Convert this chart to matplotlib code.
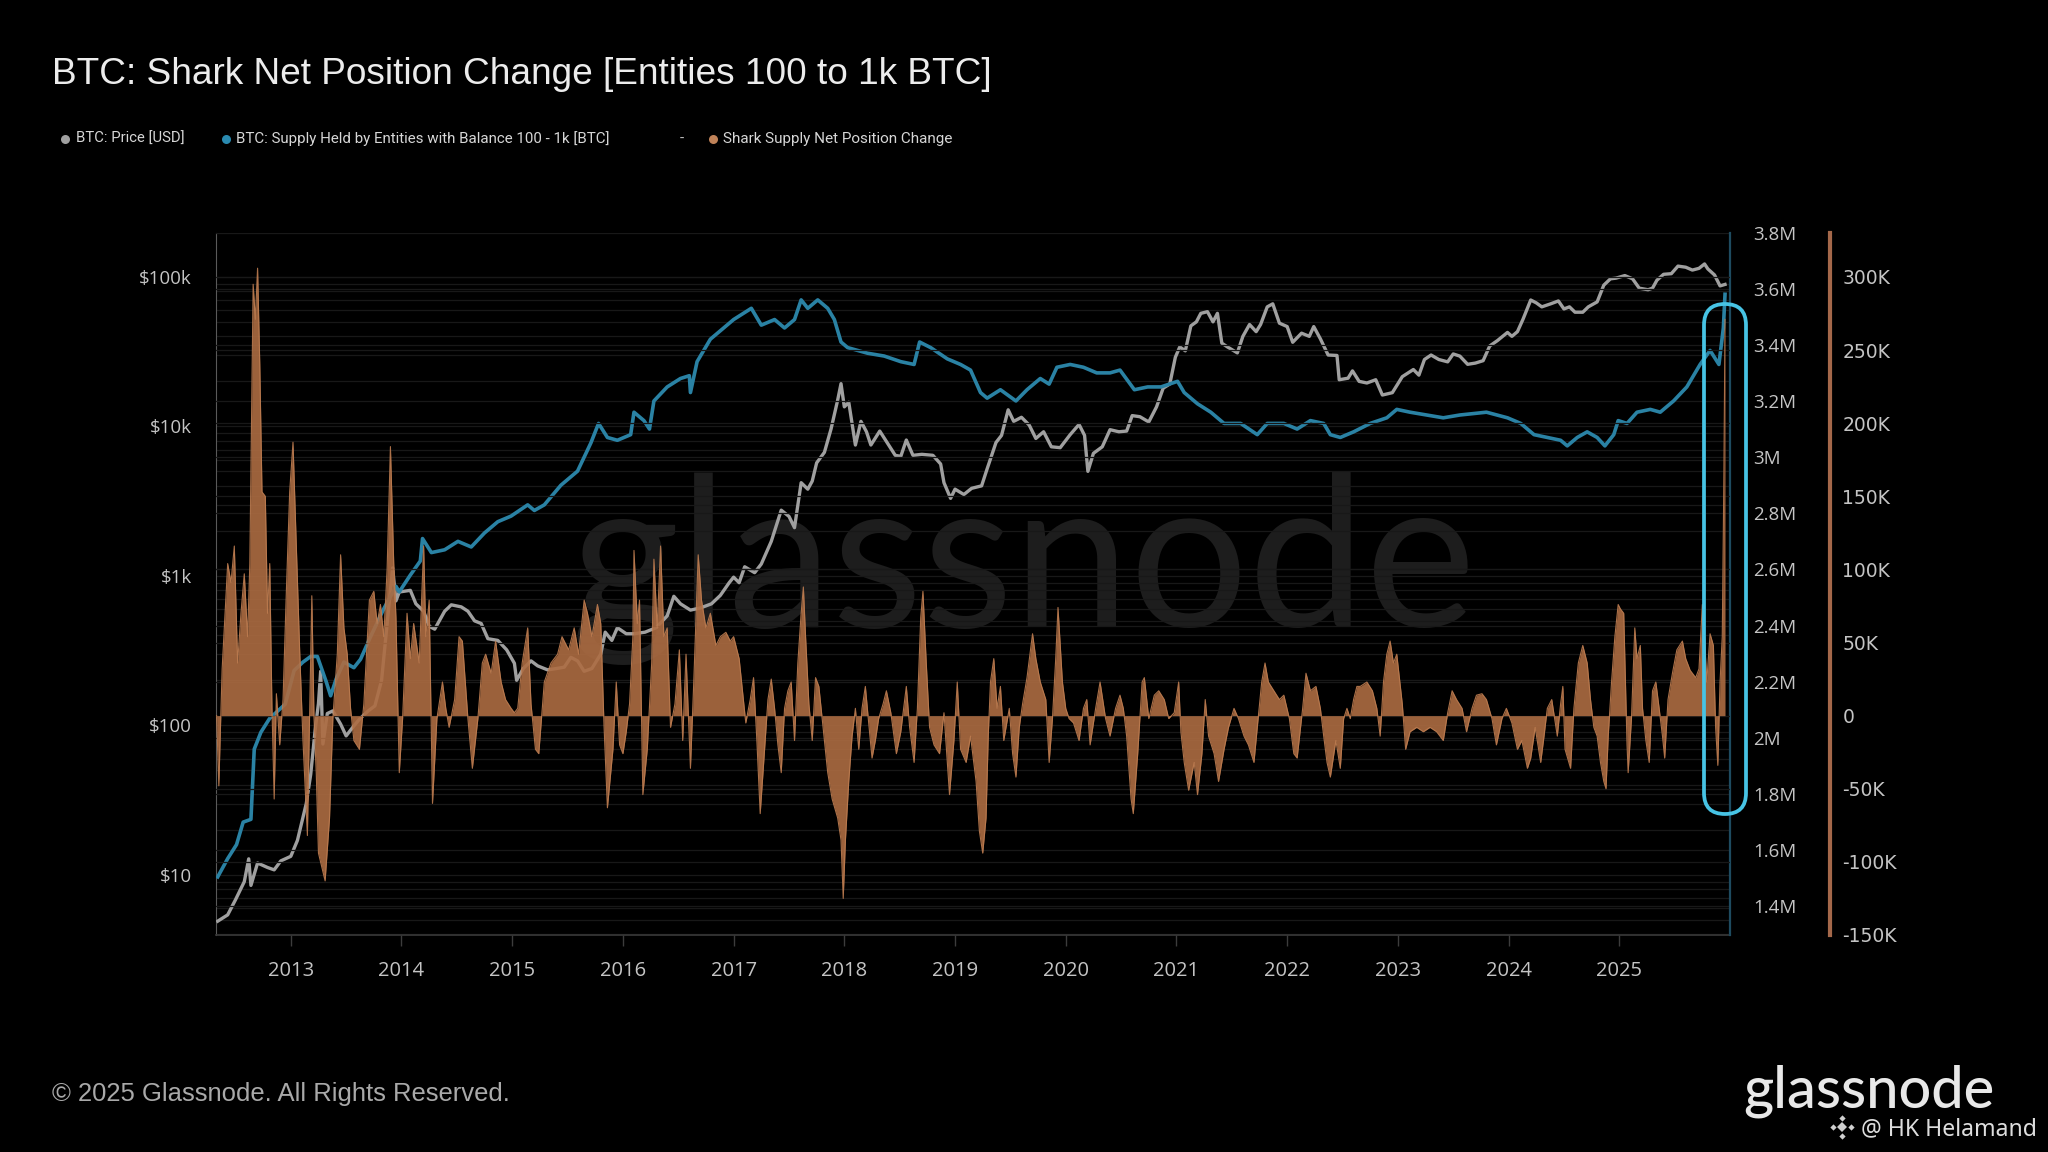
import matplotlib
matplotlib.use("Agg")
import matplotlib.pyplot as plt
from matplotlib.patches import FancyBboxPatch
from matplotlib.lines import Line2D
import matplotlib.ticker as mticker

# ---------------- data ----------------
price_years = [2012.34, 2012.43, 2012.50, 2012.58, 2012.62, 2012.64, 2012.70, 2012.79, 2012.85, 2012.91,
               2013.00, 2013.06, 2013.09, 2013.14, 2013.18, 2013.22, 2013.25, 2013.27, 2013.29, 2013.33,
               2013.38, 2013.45, 2013.50, 2013.55, 2013.62, 2013.70, 2013.76, 2013.82, 2013.86, 2013.90,
               2013.92, 2013.95, 2013.98, 2014.08, 2014.13, 2014.20, 2014.25, 2014.30, 2014.39, 2014.45,
               2014.54, 2014.60, 2014.66, 2014.72, 2014.78, 2014.87, 2014.95, 2015.02, 2015.04, 2015.10,
               2015.17, 2015.23, 2015.32, 2015.40, 2015.47, 2015.53, 2015.59, 2015.65, 2015.72, 2015.80,
               2015.84, 2015.90, 2015.95, 2016.03, 2016.10, 2016.20, 2016.30, 2016.40, 2016.46, 2016.52,
               2016.61, 2016.70, 2016.80, 2016.88, 2016.96, 2017.00, 2017.05, 2017.10, 2017.19, 2017.25,
               2017.34, 2017.43, 2017.50, 2017.55, 2017.61, 2017.67, 2017.71, 2017.75, 2017.82, 2017.88,
               2017.94, 2017.97, 2018.00, 2018.04, 2018.10, 2018.15, 2018.20, 2018.24, 2018.32, 2018.40,
               2018.46, 2018.51, 2018.56, 2018.62, 2018.70, 2018.80, 2018.87, 2018.90, 2018.96, 2019.00,
               2019.08, 2019.15, 2019.24, 2019.29, 2019.37, 2019.42, 2019.48, 2019.53, 2019.60, 2019.67,
               2019.73, 2019.80, 2019.87, 2019.95, 2020.04, 2020.12, 2020.17, 2020.20, 2020.25, 2020.33,
               2020.40, 2020.48, 2020.55, 2020.60, 2020.67, 2020.75, 2020.82, 2020.88, 2020.94, 2020.99,
               2021.03, 2021.08, 2021.13, 2021.18, 2021.22, 2021.28, 2021.33, 2021.37, 2021.41, 2021.46,
               2021.55, 2021.60, 2021.66, 2021.72, 2021.76, 2021.82, 2021.87, 2021.93, 2022.00, 2022.05,
               2022.13, 2022.20, 2022.24, 2022.30, 2022.37, 2022.45, 2022.47, 2022.55, 2022.59, 2022.65,
               2022.72, 2022.80, 2022.86, 2022.95, 2023.04, 2023.14, 2023.19, 2023.24, 2023.30, 2023.37,
               2023.45, 2023.50, 2023.56, 2023.63, 2023.70, 2023.77, 2023.83, 2023.90, 2023.99, 2024.03,
               2024.08, 2024.13, 2024.20, 2024.25, 2024.30, 2024.38, 2024.45, 2024.50, 2024.55, 2024.60,
               2024.67, 2024.72, 2024.80, 2024.86, 2024.92, 2024.97, 2025.05, 2025.12, 2025.18, 2025.26,
               2025.30, 2025.34, 2025.40, 2025.47, 2025.53, 2025.60, 2025.66, 2025.72, 2025.77, 2025.80,
               2025.86, 2025.91, 2025.955]
price_usd = [4.9, 5.4, 6.8, 9.0, 12.8, 8.5, 12.0, 11.2, 10.8, 12.4,
             13.3, 17, 21, 30, 47, 93, 140, 230, 75, 120,
             125, 102, 85, 95, 110, 125, 135, 200, 400, 800,
             1130, 680, 780, 800, 650, 580, 460, 440, 580, 640,
             620, 580, 500, 480, 380, 370, 320, 260, 200, 240,
             270, 250, 235, 240, 245, 285, 270, 230, 240, 300,
             420, 370, 450, 410, 410, 420, 450, 540, 730, 650,
             590, 610, 650, 740, 900, 980, 900, 1150, 1050, 1200,
             1700, 2750, 2500, 2100, 4200, 3800, 4300, 5700, 6700, 9600,
             15000, 19300, 13500, 14500, 7500, 10800, 9200, 7500, 9300, 7500,
             6400, 6300, 8100, 6400, 6500, 6400, 5600, 4200, 3300, 3800,
             3500, 3850, 4000, 5200, 7800, 8700, 12900, 10800, 11500, 10200,
             8300, 9200, 7300, 7200, 8800, 10300, 8700, 5000, 6600, 7300,
             9500, 9200, 9300, 11800, 11600, 10700, 13500, 18000, 19200, 29000,
             34000, 32000, 47000, 50000, 57000, 58500, 50000, 57000, 36000, 34000,
             31000, 40000, 48000, 43000, 48000, 63000, 66000, 49000, 46500, 36500,
             42000, 40000, 46500, 38500, 30000, 29800, 20500, 21000, 23500, 20000,
             19500, 20500, 16200, 16800, 21500, 24000, 22000, 28000, 30000, 28000,
             27000, 30500, 29500, 26000, 26500, 27500, 34500, 37500, 42500, 40000,
             43000, 52000, 70000, 67000, 63000, 66000, 69000, 61000, 63000, 58000,
             58000, 63000, 68000, 88000, 97000, 98000, 102000, 97000, 84000, 82000,
             84000, 95000, 104000, 105000, 118000, 116000, 111000, 114000, 122000, 113000,
             103000, 87000, 89000]

supply_years = [2012.34, 2012.43, 2012.51, 2012.57, 2012.64, 2012.67, 2012.73, 2012.81, 2012.95, 2013.03,
                2013.11, 2013.18, 2013.24, 2013.32, 2013.36, 2013.41, 2013.48, 2013.57, 2013.63, 2013.72,
                2013.84, 2013.95, 2013.98, 2014.08, 2014.17, 2014.19, 2014.27, 2014.39, 2014.51, 2014.63,
                2014.75, 2014.87, 2014.99, 2015.14, 2015.20, 2015.29, 2015.44, 2015.59, 2015.71, 2015.78,
                2015.86, 2015.95, 2016.07, 2016.10, 2016.19, 2016.24, 2016.28, 2016.40, 2016.52, 2016.60,
                2016.61, 2016.67, 2016.79, 2016.91, 2017.00, 2017.16, 2017.25, 2017.37, 2017.46, 2017.55,
                2017.61, 2017.67, 2017.76, 2017.85, 2017.91, 2017.97, 2018.03, 2018.12, 2018.21, 2018.36,
                2018.51, 2018.63, 2018.68, 2018.78, 2018.93, 2019.05, 2019.14, 2019.23, 2019.29, 2019.41,
                2019.55, 2019.65, 2019.77, 2019.85, 2019.92, 2020.04, 2020.16, 2020.28, 2020.40, 2020.49,
                2020.62, 2020.74, 2020.86, 2021.01, 2021.07, 2021.19, 2021.31, 2021.43, 2021.58, 2021.73,
                2021.82, 2021.97, 2022.09, 2022.21, 2022.33, 2022.39, 2022.48, 2022.60, 2022.75, 2022.90,
                2022.99, 2023.11, 2023.26, 2023.41, 2023.56, 2023.80, 2023.99, 2024.11, 2024.23, 2024.35,
                2024.47, 2024.53, 2024.62, 2024.71, 2024.80, 2024.87, 2024.95, 2024.99, 2025.07, 2025.16,
                2025.28, 2025.37, 2025.49, 2025.61, 2025.73, 2025.82, 2025.90, 2025.94, 2025.955]
supply_btc_m = [1.505, 1.57, 1.62, 1.70, 1.71, 1.96, 2.02, 2.07, 2.12, 2.24,
                2.27, 2.29, 2.29, 2.20, 2.15, 2.21, 2.27, 2.25, 2.28, 2.36,
                2.46, 2.54, 2.52, 2.58, 2.63, 2.71, 2.66, 2.67, 2.70, 2.68,
                2.73, 2.77, 2.79, 2.83, 2.81, 2.83, 2.90, 2.95, 3.05, 3.12,
                3.07, 3.06, 3.08, 3.16, 3.13, 3.10, 3.20, 3.25, 3.28, 3.29,
                3.23, 3.34, 3.42, 3.46, 3.49, 3.53, 3.47, 3.49, 3.46, 3.49,
                3.56, 3.53, 3.56, 3.53, 3.49, 3.41, 3.39, 3.38, 3.37, 3.36,
                3.34, 3.33, 3.41, 3.39, 3.35, 3.33, 3.31, 3.23, 3.21, 3.24,
                3.20, 3.24, 3.28, 3.26, 3.32, 3.33, 3.32, 3.30, 3.30, 3.31,
                3.24, 3.25, 3.25, 3.27, 3.23, 3.19, 3.16, 3.12, 3.12, 3.08,
                3.12, 3.12, 3.10, 3.13, 3.12, 3.08, 3.07, 3.09, 3.12, 3.14,
                3.17, 3.16, 3.15, 3.14, 3.15, 3.16, 3.14, 3.12, 3.08, 3.07,
                3.06, 3.04, 3.07, 3.09, 3.07, 3.04, 3.08, 3.13, 3.12, 3.16,
                3.17, 3.16, 3.20, 3.25, 3.33, 3.38, 3.33, 3.46, 3.58]

net_years = [2012.33, 2012.35, 2012.38, 2012.43, 2012.46, 2012.49, 2012.52, 2012.55, 2012.58, 2012.61,
             2012.63, 2012.66, 2012.68, 2012.70, 2012.72, 2012.74, 2012.77, 2012.79, 2012.81, 2012.83,
             2012.85, 2012.87, 2012.90, 2012.93, 2012.96, 2012.99, 2013.02, 2013.05, 2013.08, 2013.11,
             2013.14, 2013.15, 2013.17, 2013.19, 2013.21, 2013.23, 2013.25, 2013.31, 2013.35, 2013.38,
             2013.42, 2013.45, 2013.48, 2013.51, 2013.54, 2013.57, 2013.62, 2013.66, 2013.71, 2013.75,
             2013.78, 2013.81, 2013.84, 2013.87, 2013.90, 2013.93, 2013.95, 2013.98, 2014.01, 2014.05,
             2014.08, 2014.11, 2014.16, 2014.20, 2014.22, 2014.25, 2014.28, 2014.32, 2014.37, 2014.40,
             2014.43, 2014.48, 2014.52, 2014.55, 2014.60, 2014.64, 2014.69, 2014.73, 2014.76, 2014.81,
             2014.85, 2014.90, 2014.94, 2014.99, 2015.02, 2015.05, 2015.09, 2015.14, 2015.17, 2015.21,
             2015.24, 2015.29, 2015.35, 2015.41, 2015.45, 2015.51, 2015.56, 2015.60, 2015.65, 2015.68,
             2015.72, 2015.77, 2015.80, 2015.83, 2015.86, 2015.91, 2015.94, 2015.97, 2016.00, 2016.03,
             2016.06, 2016.09, 2016.10, 2016.13, 2016.15, 2016.18, 2016.22, 2016.26, 2016.28, 2016.31,
             2016.34, 2016.37, 2016.40, 2016.43, 2016.47, 2016.51, 2016.54, 2016.57, 2016.61, 2016.64,
             2016.68, 2016.71, 2016.75, 2016.79, 2016.84, 2016.88, 2016.93, 2016.97, 2017.00, 2017.05,
             2017.08, 2017.11, 2017.15, 2017.18, 2017.21, 2017.24, 2017.28, 2017.31, 2017.34, 2017.37,
             2017.40, 2017.43, 2017.46, 2017.49, 2017.52, 2017.55, 2017.58, 2017.61, 2017.63, 2017.65,
             2017.68, 2017.71, 2017.74, 2017.77, 2017.80, 2017.85, 2017.89, 2017.94, 2017.97, 2017.99,
             2018.01, 2018.04, 2018.07, 2018.10, 2018.13, 2018.16, 2018.19, 2018.22, 2018.25, 2018.28,
             2018.31, 2018.35, 2018.38, 2018.42, 2018.47, 2018.51, 2018.56, 2018.59, 2018.63, 2018.66,
             2018.69, 2018.71, 2018.74, 2018.77, 2018.81, 2018.86, 2018.90, 2018.95, 2018.99, 2019.02,
             2019.05, 2019.10, 2019.14, 2019.19, 2019.22, 2019.25, 2019.28, 2019.30, 2019.32, 2019.35,
             2019.38, 2019.41, 2019.44, 2019.49, 2019.52, 2019.55, 2019.58, 2019.61, 2019.65, 2019.70,
             2019.73, 2019.77, 2019.82, 2019.85, 2019.88, 2019.91, 2019.93, 2019.97, 2020.00, 2020.03,
             2020.07, 2020.12, 2020.16, 2020.19, 2020.22, 2020.27, 2020.31, 2020.36, 2020.40, 2020.45,
             2020.49, 2020.52, 2020.55, 2020.59, 2020.61, 2020.65, 2020.69, 2020.71, 2020.75, 2020.80,
             2020.84, 2020.89, 2020.93, 2020.98, 2021.02, 2021.04, 2021.07, 2021.11, 2021.16, 2021.19,
             2021.23, 2021.26, 2021.29, 2021.34, 2021.38, 2021.43, 2021.47, 2021.52, 2021.56, 2021.61,
             2021.65, 2021.70, 2021.73, 2021.77, 2021.80, 2021.83, 2021.88, 2021.93, 2021.97, 2022.02,
             2022.06, 2022.09, 2022.14, 2022.17, 2022.21, 2022.26, 2022.30, 2022.33, 2022.36, 2022.39,
             2022.44, 2022.48, 2022.51, 2022.54, 2022.57, 2022.60, 2022.63, 2022.66, 2022.72, 2022.77,
             2022.81, 2022.84, 2022.87, 2022.90, 2022.93, 2022.96, 2022.99, 2023.04, 2023.07, 2023.11,
             2023.17, 2023.23, 2023.29, 2023.35, 2023.41, 2023.45, 2023.49, 2023.53, 2023.58, 2023.62,
             2023.67, 2023.71, 2023.76, 2023.80, 2023.85, 2023.89, 2023.94, 2023.98, 2024.03, 2024.08,
             2024.12, 2024.17, 2024.20, 2024.24, 2024.29, 2024.32, 2024.35, 2024.39, 2024.44, 2024.47,
             2024.49, 2024.51, 2024.56, 2024.59, 2024.63, 2024.67, 2024.71, 2024.74, 2024.77, 2024.80,
             2024.83, 2024.86, 2024.88, 2024.90, 2024.93, 2024.96, 2024.99, 2025.01, 2025.04, 2025.07,
             2025.08, 2025.11, 2025.14, 2025.16, 2025.19, 2025.21, 2025.24, 2025.27, 2025.30, 2025.33,
             2025.36, 2025.39, 2025.41, 2025.44, 2025.48, 2025.52, 2025.57, 2025.60, 2025.64, 2025.69,
             2025.72, 2025.75, 2025.77, 2025.79, 2025.82, 2025.85, 2025.87, 2025.89, 2025.91, 2025.93,
             2025.945, 2025.955]
net_change_k = [0, -48, 32, 104, 91, 116, 36, 70, 97, 54,
                104, 295, 271, 306, 240, 153, 150, 70, 104, 5,
                -57, 15, -20, 11, 85, 153, 187, 116, 45, -17,
                -67, -82, 2, 82, -2, -39, -94, -113, -70, -2,
                42, 110, 60, 42, 5, -17, -23, 8, 79, 85,
                63, 76, 54, 100, 184, 104, 67, -39, -2, 70,
                39, 63, 36, 116, 54, 79, -60, -2, 23, 5,
                -8, 11, 54, 51, -2, -36, -2, 36, 42, 29,
                51, 23, 11, 5, 2, 5, 36, 60, 8, -23,
                -26, 23, 36, 42, 54, 45, 60, 42, 79, 70,
                54, 76, 63, -8, -63, -23, 23, -20, -26, -11,
                8, 54, 113, 63, 79, -54, -23, 36, 107, 60,
                116, 54, 60, -8, 8, 45, -17, 42, -36, 23,
                110, 79, 60, 70, 48, 54, 57, 51, 54, 39,
                17, -5, 11, 26, -17, -67, -23, 11, 25, 5,
                -20, -39, 5, 17, 23, -17, 36, 70, 88, 54,
                8, -17, 26, 20, -2, -39, -57, -70, -85, -125,
                -85, -45, -14, 5, -23, 5, 20, -5, -29, -17,
                -2, 8, 17, 2, -26, -11, 20, -8, -32, 5,
                67, 85, 36, -8, -20, -26, 2, -54, -17, 23,
                -23, -32, -14, -45, -79, -94, -70, -14, 23, 39,
                5, 20, -17, 5, -26, -42, -8, 8, 26, 56,
                39, 23, 11, -32, -2, 40, 74, 23, 5, -2,
                -5, -17, 5, 11, -20, 5, 23, -2, -14, 5,
                14, 5, -14, -57, -67, -26, 23, 26, -2, 14,
                17, 11, -2, 2, 23, -11, -32, -51, -32, -54,
                -26, 11, -14, -26, -45, -23, -8, 5, -2, -14,
                -20, -32, -8, 23, 36, 23, 17, 11, 14, -2,
                -26, -29, 5, 29, 17, 20, 5, -14, -32, -42,
                -17, -36, -2, 5, -2, 11, 20, 20, 23, 17,
                5, -14, 23, 42, 51, 36, 42, 8, -23, -11,
                -8, -11, -8, -11, -17, 2, 17, 11, 5, -11,
                5, 14, 15, 11, -2, -20, -2, 5, -5, -23,
                -17, -36, -29, -8, -32, -14, 5, 11, -14, 8,
                20, -23, -36, 5, 36, 48, 36, 11, -8, -14,
                -32, -45, -50, -14, 23, 54, 76, 73, 70, -20,
                -39, -2, 60, 39, 48, 5, -17, -32, 17, 23,
                5, -14, -29, 11, 29, 45, 51, 39, 31, 26,
                32, 76, 54, 23, 56, 48, -8, -34, 23, 54,
                166, 271]

year_ticks = list(range(2013, 2026))
price_ticks = [10, 100, 1000, 10000, 100000]
price_labels = ["$10", "$100", "$1k", "$10k", "$100k"]
supply_ticks = [1.4, 1.6, 1.8, 2.0, 2.2, 2.4, 2.6, 2.8, 3.0, 3.2, 3.4, 3.6, 3.8]
supply_labels = ["1.4M", "1.6M", "1.8M", "2M", "2.2M", "2.4M", "2.6M", "2.8M", "3M",
                 "3.2M", "3.4M", "3.6M", "3.8M"]
net_ticks = [-150, -100, -50, 0, 50, 100, 150, 200, 250, 300]
net_labels = ["-150K", "-100K", "-50K", "0", "50K", "100K", "150K", "200K", "250K", "300K"]

# ---------------- styling ----------------
BG = "#000000"
C_PRICE = "#a0a0a0"
C_SUPPLY = "#2a82a4"
C_NET = "#ad6c42"
C_TICK = "#c4c4c4"
C_GRID = "#181818"
TICK_FONT = "Open Sans"

W, H = 2048, 1152
fig = plt.figure(figsize=(W / 100, H / 100), dpi=100, facecolor=BG)
L, R, B, T = 215.5, 1730.0, 935.0, 232.5
ax = fig.add_axes([L / W, 1 - B / H, (R - L) / W, (B - T) / H])
ax.set_facecolor(BG)
ax2 = ax.twinx()
ax3 = ax.twinx()

# price (log, left)
ax.plot(price_years, price_usd, color=C_PRICE, lw=2.4, zorder=3, solid_joinstyle="round")
ax.set_yscale("log")
ax.set_ylim(3.96, 198000)
ax.set_xlim(2012.32, 2026.0)
ax.set_yticks(price_ticks)
ax.set_yticklabels(price_labels)
ax.yaxis.set_minor_formatter(mticker.NullFormatter())
ax.set_xticks(year_ticks)
ax.set_xticklabels([str(y) for y in year_ticks])
ax.grid(True, which="both", axis="y", color=C_GRID, lw=0.9)
ax.tick_params(axis="y", which="both", length=0, pad=17, labelcolor=C_TICK, labelsize=13.5)
ax.tick_params(axis="x", length=8, width=1, color="#3c3c3c", pad=11, labelcolor=C_TICK, labelsize=14.5)
for lab in ax.get_xticklabels() + ax.get_yticklabels():
    lab.set_fontfamily(TICK_FONT)
for s in ["top", "right"]:
    ax.spines[s].set_visible(False)
ax.spines["left"].set_color("#5a5a5a")
ax.spines["bottom"].set_color("#3a3a3a")
ax.spines["bottom"].set_linewidth(1.2)

# supply (right, inner)
ax2.plot(supply_years, supply_btc_m, color=C_SUPPLY, lw=2.6, zorder=3, solid_joinstyle="round")
ax2.set_ylim(1.298, 3.8)
ax2.set_yticks(supply_ticks)
ax2.set_yticklabels(supply_labels)
ax2.grid(True, axis="y", color=C_GRID, lw=0.9)
ax2.tick_params(axis="y", length=0, pad=17, labelcolor=C_TICK, labelsize=13.5)
for lab in ax2.get_yticklabels():
    lab.set_fontfamily(TICK_FONT)
for s in ["top", "left", "bottom"]:
    ax2.spines[s].set_visible(False)
ax2.spines["right"].set_color("#1e4b60")
ax2.spines["right"].set_linewidth(1.6)

# net position change (right, outer)
ax3.fill_between(net_years, 0, net_change_k, color=C_NET, alpha=0.9, lw=0, zorder=2)
ax3.plot(net_years, net_change_k, color="#bd7c50", lw=0.8, alpha=0.9, zorder=2)
ax3.set_ylim(-150, 330.4)
ax3.set_yticks(net_ticks)
ax3.set_yticklabels(net_labels)
ax3.grid(True, axis="y", color=C_GRID, lw=0.9)
ax3.tick_params(axis="y", length=0, pad=9, labelcolor=C_TICK, labelsize=13.5)
for lab in ax3.get_yticklabels():
    lab.set_fontfamily(TICK_FONT)
for s in ["top", "left", "bottom"]:
    ax3.spines[s].set_visible(False)
ax3.spines["right"].set_position(("axes", (1830 - L) / (R - L)))
ax3.spines["right"].set_color("#a4684a")
ax3.spines["right"].set_linewidth(3)
ax3.set_xlim(2012.32, 2026.0)
ax2.set_xlim(2012.32, 2026.0)

renderer = fig.canvas.get_renderer()


def fit(txt, width_px):
    bb = txt.get_window_extent(renderer)
    txt.set_fontsize(txt.get_fontsize() * width_px / bb.width)
    return txt


def fy(y_px):
    return 1 - y_px / H


def fx(x_px):
    return x_px / W


# watermark
wm = ax.text(fx(1023), fy(627), "glassnode", transform=fig.transFigure, ha="center", va="baseline",
             color="#1d1d1d", fontsize=120, family="Lato", zorder=0.5)
fit(wm, 905)

# title
title = fig.text(fx(52), fy(84), "BTC: Shark Net Position Change [Entities 100 to 1k BTC]",
                 color="#ececec", fontsize=30, family="Liberation Sans", va="baseline", ha="left")
fit(title, 938)

# legend
leg_items = [
    (65, 76, 108, C_PRICE, "BTC: Price [USD]"),
    (226, 236, 375, "#2a8ab0", "BTC: Supply Held by Entities with Balance 100 - 1k [BTC]"),
    (713, 723, 230, "#c08258", "Shark Supply Net Position Change"),
]
for dot_x, tx, tw, col, label in leg_items:
    fig.add_artist(Line2D([fx(dot_x)], [fy(139)], marker="o", markersize=6.5, color=col,
                          markeredgewidth=0, transform=fig.transFigure))
    t = fig.text(fx(tx), fy(139), label, color="#d6d6d6", fontsize=11, family="Roboto",
                 va="center", ha="left")
    fit(t, tw)
fig.text(fx(682), fy(139), "-", color="#bbbbbb", fontsize=11, family="Roboto", va="center", ha="center")

# highlight oval (annotation)
oval = FancyBboxPatch((1704, H - 814), 42, 510, boxstyle="round,pad=0,rounding_size=21",
                      transform=None, fill=False, edgecolor="#47c3e4", lw=2.7, zorder=10)
fig.patches.append(oval)

# footer
foot = fig.text(fx(52), fy(1101), "\u00a9 2025 Glassnode. All Rights Reserved.", color="#a9a9a9",
                fontsize=18, family="Liberation Sans", va="baseline", ha="left")
fit(foot, 457)

logo = fig.text(fx(1743), fy(1107), "glassnode", color="#e8e8e8", fontsize=40, family="Lato",
                fontweight="medium", va="baseline", ha="left")
fit(logo, 251)
handle = fig.text(fx(1861), fy(1135), "@ HK Helamand", color="#dddddd", fontsize=20,
                  family="Noto Sans", va="baseline", ha="left")
fit(handle, 176)
# small diamond icon
cx, cy = 1842, 1127
for dx, dy, ms in [(0, 0, 5), (-9, 0, 3.2), (9, 0, 3.2), (0, -9, 3.2), (0, 9, 3.2)]:
    fig.add_artist(Line2D([fx(cx + dx)], [fy(cy + dy)], marker="D", markersize=ms, color="#cfcfcf",
                          markeredgewidth=0, transform=fig.transFigure))

fig.savefig("out.png", dpi=100, facecolor=BG)
